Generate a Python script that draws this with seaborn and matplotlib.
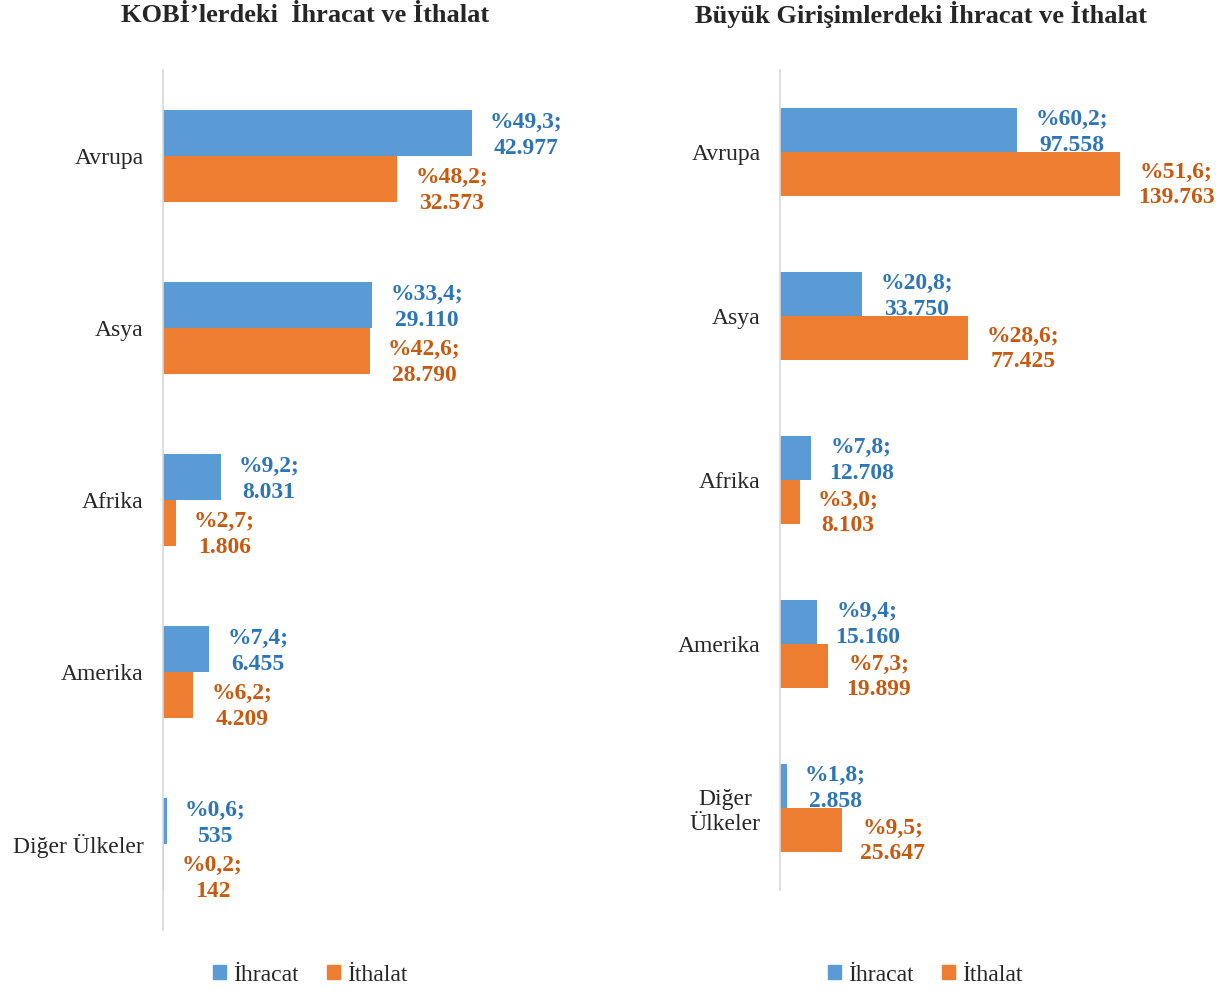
import matplotlib
matplotlib.use('Agg')
import matplotlib.pyplot as plt
import seaborn as sns
import pandas as pd
from matplotlib.patches import Patch
from matplotlib.transforms import offset_copy

# data
regions_kobi = ['Avrupa', 'Asya', 'Afrika', 'Amerika', 'Diğer Ülkeler']
kobi_export = [42977, 29110, 8031, 6455, 535]
kobi_import = [32573, 28790, 1806, 4209, 142]
kobi_export_pct = [49.3, 33.4, 9.2, 7.4, 0.6]
kobi_import_pct = [48.2, 42.6, 2.7, 6.2, 0.2]

regions_big = ['Avrupa', 'Asya', 'Afrika', 'Amerika', 'Diğer\nÜlkeler']
big_export = [97558, 33750, 12708, 15160, 2858]
big_import = [139763, 77425, 8103, 19899, 25647]
big_export_pct = [60.2, 20.8, 7.8, 9.4, 1.8]
big_import_pct = [51.6, 28.6, 3.0, 7.3, 9.5]

series = ['İhracat', 'İthalat']
BAR_COLORS = ['#5B9BD5', '#ED7D31']
TEXT_COLORS = ['#2E75B6', '#C55A11']

sns.set_style('white')
plt.rcParams['font.family'] = ['Liberation Serif', 'DejaVu Serif']


def fmt_pct(p):
    return '%' + f'{p:.1f}'.replace('.', ',') + ';'


def fmt_val(v):
    return f'{v:,}'.replace(',', '.')


def draw_panel(fig, rect, title, title_x, regions, exp, imp, exp_pct, imp_pct, xmax, legend_x):
    ax = fig.add_axes(rect)
    df = pd.DataFrame({
        'region': regions * 2,
        'value': exp + imp,
        'type': [series[0]] * len(regions) + [series[1]] * len(regions),
    })
    sns.barplot(data=df, y='region', x='value', hue='type', orient='h',
                palette=BAR_COLORS, width=0.535, ax=ax, legend=False,
                saturation=1, linewidth=0)
    ax.set_xlim(0, xmax)
    ax.set_ylim(len(regions) - 0.5, -0.5)
    ax.set_xlabel('')
    ax.set_ylabel('')
    ax.set_xticks([])
    ax.tick_params(axis='y', length=0, pad=14, labelsize=17)
    for lbl in ax.get_yticklabels():
        lbl.set_multialignment('center')
    for s in ['top', 'right', 'bottom']:
        ax.spines[s].set_visible(False)
    ax.spines['left'].set_color('#D9D9D9')
    ax.spines['left'].set_linewidth(1.2)

    pcts = [exp_pct, imp_pct]
    vals = [exp, imp]
    for k, container in enumerate(ax.containers):
        dy = -2 if k == 0 else -8
        trans = offset_copy(ax.transData, fig=fig, x=13, y=dy, units='points')
        for i, bar in enumerate(container):
            yc = bar.get_y() + bar.get_height() / 2
            ax.text(bar.get_width(), yc,
                    fmt_pct(pcts[k][i]) + '\n' + fmt_val(vals[k][i]),
                    transform=trans, ha='left', va='center',
                    multialignment='center', color=TEXT_COLORS[k],
                    fontsize=17, fontweight='bold', linespacing=1.3,
                    clip_on=False)

    fig.text(title_x, 1 - 15 / 994, title, ha='center', va='center',
             fontsize=19, fontweight='bold')
    handles = [Patch(color=c, label=s) for c, s in zip(BAR_COLORS, series)]
    fig.legend(handles=handles, loc='center', bbox_to_anchor=(legend_x, 0.019),
               ncol=2, frameon=False, fontsize=17, handlelength=0.55,
               handleheight=0.55, handletextpad=0.3, columnspacing=1.2)
    return ax


fig = plt.figure(figsize=(12.2, 9.94), dpi=100)

draw_panel(fig, [163 / 1220, 1 - 930 / 994, 437 / 1220, 860 / 994],
           'KOBİ’lerdeki  İhracat ve İthalat', 305 / 1220,
           regions_kobi, kobi_export, kobi_import, kobi_export_pct, kobi_import_pct,
           437 / (309 / 42977), 310 / 1220)

draw_panel(fig, [780 / 1220, 1 - 890 / 994, 400 / 1220, 820 / 994],
           'Büyük Girişimlerdeki İhracat ve İthalat', 921 / 1220,
           regions_big, big_export, big_import, big_export_pct, big_import_pct,
           400 / (340 / 139763), 925 / 1220)

fig.savefig('out.png', dpi=100)
